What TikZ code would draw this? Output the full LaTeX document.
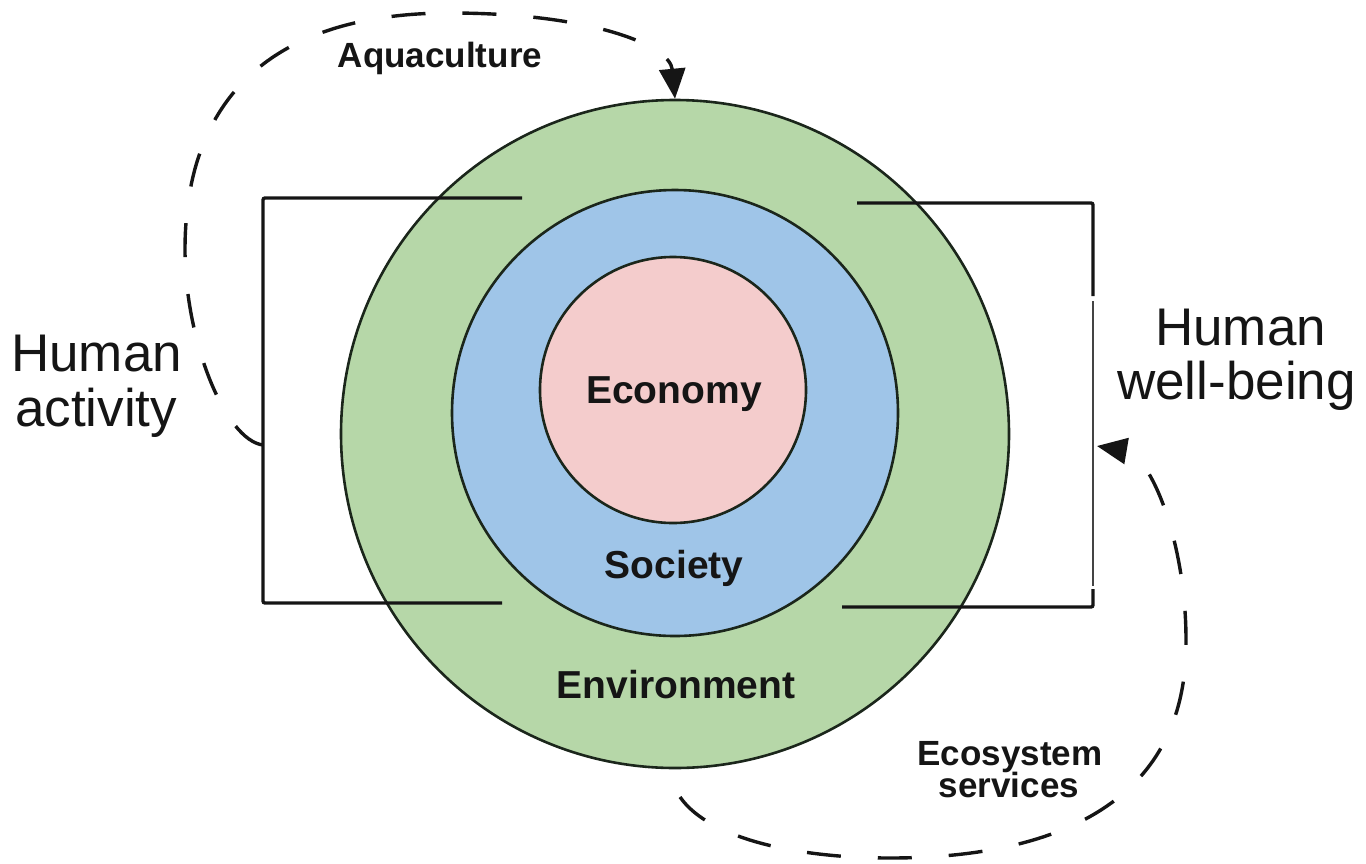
\documentclass[tikz,border=0pt]{standalone}
\usepackage{fontspec}
\setmainfont{Liberation Sans}
\usetikzlibrary{arrows.meta}
\definecolor{envgreen}{HTML}{B6D7A8}
\definecolor{socblue}{HTML}{9FC5E8}
\definecolor{ecopink}{HTML}{F4CCCC}
\definecolor{ringline}{HTML}{1B261B}
\definecolor{inkc}{HTML}{151515}
\tikzset{
  ring/.style={circle, draw=ringline, line width=2.6pt, inner sep=0pt},
  ringlabel/.style={anchor=base, inner sep=0pt, text=inkc, font=\fontsize{39}{47}\selectfont\bfseries},
  flowlabel/.style={anchor=base, inner sep=0pt, text=inkc, font=\fontsize{35}{40}\selectfont\bfseries},
  sidelabel/.style={anchor=base west, inner sep=0pt, text=inkc, font=\fontsize{53}{58}\selectfont},
  bracketline/.style={draw=inkc, line width=3.4pt, rounded corners=2pt},
  thinbracket/.style={draw=inkc!80, line width=1.6pt},
  flowline/.style={draw=inkc, line width=3.4pt, dash pattern=on 34pt off 37pt,
     -{Triangle[length=30pt,width=26pt]}}
}
\begin{document}
\begin{tikzpicture}[x=1pt,y=-1pt]
\useasboundingbox (0,0) rectangle (1366,863);
% rings
\node[ring, fill=envgreen, minimum size=668pt] (env) at (675,434) {};
\node[ring, fill=socblue, minimum size=446pt] (soc) at (675,413) {};
\node[ring, fill=ecopink, minimum size=266pt] (eco) at (673,390) {};
\node[ringlabel] (ecol) at (674,403) {Economy};
\node[ringlabel] (socl) at (674,578) {Society};
\node[ringlabel] (envl) at (676,698) {Environment};
% brackets
\coordinate (lt0) at (522,198);
\coordinate (lt1) at (263,198);
\coordinate (lb1) at (263,603);
\coordinate (lb0) at (502,603);
\draw[bracketline] (lt0) -- (lt1) -- (lb1) -- (lb0);
\coordinate (rt0) at (857,203);
\coordinate (rt1) at (1093,203);
\coordinate (rm0) at (1093,296);
\coordinate (rm1) at (1093,301);
\coordinate (rm2) at (1093,586);
\coordinate (rm3) at (1093,589);
\coordinate (rb1) at (1093,607);
\coordinate (rb0) at (842,607);
\draw[bracketline] (rt0) -- (rt1) -- (rm0);
\draw[thinbracket] (rm1) -- (rm2);
\draw[bracketline] (rm3) -- (rb1) -- (rb0);
% side labels
\node[sidelabel] (ha1) at (11,371) {Human};
\node[sidelabel] (ha2) at (15,426) {activity};
\node[sidelabel] (hw1) at (1155,345) {Human};
\node[sidelabel] (hw2) at (1117,399) {well-being};
% flows
\coordinate (aqs) at (263,445);
\draw[flowline] (aqs) .. controls (225,440) and (185,340) .. (185,250)
   .. controls (185,100) and (270,13) .. (450,13)
   .. controls (590,13) and (670,45) .. (env.north);
\node[flowlabel] (aql) at (440,67) {Aquaculture};
\coordinate (ess) at (680,797);
\coordinate (esend) at (1097,446);
\draw[flowline] (ess) .. controls (710,840) and (800,858) .. (890,858)
   .. controls (1060,858) and (1188,800) .. (1186,640)
   .. controls (1186,540) and (1150,455) .. (esend);
\node[flowlabel] (esl1) at (1010,765) {Ecosystem};
\node[flowlabel] (esl2) at (1009,797) {services};
\end{tikzpicture}
\end{document}
